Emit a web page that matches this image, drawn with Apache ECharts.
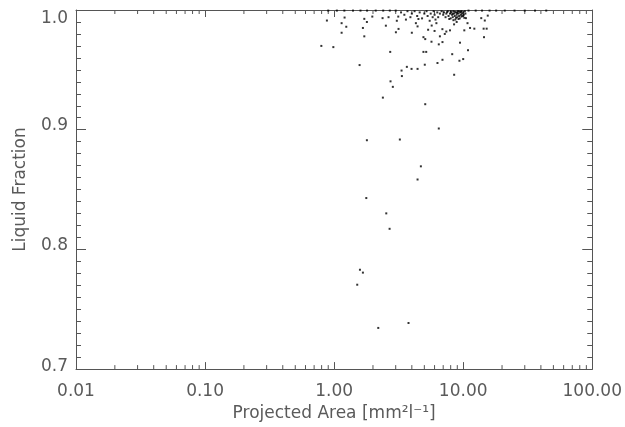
<!DOCTYPE html>
<html>
<head>
<meta charset="utf-8">
<script src="https://cdn.jsdelivr.net/npm/echarts@6/dist/echarts.min.js"></script>
<style>
  html, body { margin: 0; padding: 0; background: #fff; }
  #chart { width: 625px; height: 427px; }
</style>
</head>
<body>
<div id="chart"></div>
<script>
// Projected area [mm^2 l^-1] vs liquid fraction, one point per sample.
const areaTickLabels = ['0.01', '0.10', '1.00', '10.00', '100.00'];
const fractionTickLabels = ['0.7', '0.8', '0.9', '1.0'];

// Minor tick positions on the logarithmic area axis
const areaMinorTicks = [
  0.02, 0.03, 0.04, 0.05, 0.06, 0.07, 0.08, 0.09,
  0.2, 0.3, 0.4, 0.5, 0.6, 0.7, 0.8, 0.9,
  2, 3, 4, 5, 6, 7, 8, 9,
  20, 30, 40, 50, 60, 70, 80, 90
];

// Scattered samples below the saturated band
const scatteredPoints = [
  [0.879, 0.9912], [0.796, 0.970], [0.986, 0.969], [1.143, 0.989], [1.205, 0.9937],
  [1.242, 0.986], [1.143, 0.981], [1.575, 0.954], [1.671, 0.985], [1.713, 0.9926],
  [1.794, 0.990], [1.713, 0.978], [1.976, 0.9945], [2.373, 0.9932], [2.517, 0.9869],
  [2.64, 0.994], [2.72, 0.965], [2.735, 0.9404], [2.85, 0.9358], [2.386, 0.9268],
  [3.01, 0.9814], [3.155, 0.9842], [3.06, 0.991], [3.14, 0.9945], [3.33, 0.9494],
  [3.35, 0.9448], [3.66, 0.9525], [3.98, 0.9508], [4.43, 0.9508], [4.0, 0.981],
  [4.30, 0.989], [4.43, 0.9863], [4.92, 0.9773], [5.08, 0.9757], [4.92, 0.965],
  [5.17, 0.965], [5.04, 0.9543], [5.08, 0.9213], [5.68, 0.9735], [6.32, 0.9557],
  [6.47, 0.9713], [6.91, 0.9732], [6.91, 0.9584], [8.22, 0.9631], [8.51, 0.9459],
  [9.35, 0.9576], [10.0, 0.959], [9.45, 0.9727], [10.9, 0.9664], [11.3, 0.985],
  [12.2, 0.9844], [10.2, 0.983], [10.8, 0.989], [10.5, 0.9932], [13.8, 0.9932],
  [14.7, 0.9912], [15.5, 0.9953], [14.4, 0.9844], [15.2, 0.9844], [14.5, 0.9773],
  [6.47, 0.901], [1.794, 0.8912], [3.23, 0.8918], [4.70, 0.8694], [4.43, 0.8584],
  [1.775, 0.8429], [2.535, 0.8301], [2.69, 0.8172], [1.585, 0.783], [1.671, 0.7806],
  [1.51, 0.7705], [3.77, 0.7385], [2.198, 0.7344]
];

// Dense band of samples close to fully liquid
const densePoints = [
  [6.6, 0.997], [6.8, 0.999], [7.0, 0.996], [7.1, 0.998], [7.3, 0.994], [7.4, 0.997],
  [7.6, 0.999], [7.7, 0.995], [7.9, 0.997], [8.0, 0.993], [8.1, 0.998], [8.2, 0.996],
  [8.3, 0.994], [8.4, 0.999], [8.5, 0.997], [8.6, 0.995], [8.7, 0.992], [8.8, 0.998],
  [8.9, 0.996], [9.0, 0.994], [9.1, 0.999], [9.2, 0.997], [9.3, 0.995], [9.4, 0.993],
  [9.5, 0.998], [9.6, 0.996], [9.7, 0.999], [9.8, 0.997], [9.9, 0.995], [10.0, 0.998],
  [10.1, 0.996], [10.3, 0.999], [10.4, 0.997], [8.0, 0.999], [8.6, 0.9985], [9.3, 0.9988],
  [7.5, 0.9982], [8.3, 0.9968], [9.0, 0.9975], [9.6, 0.9985], [8.8, 0.9935], [9.2, 0.9925],
  [8.4, 0.9915], [7.8, 0.9925], [10.2, 0.9935], [9.7, 0.9945],
  [3.3, 0.998], [3.5, 0.996], [3.7, 0.999], [3.9, 0.994], [4.0, 0.997], [4.2, 0.999],
  [4.4, 0.995], [4.6, 0.998], [4.8, 0.993], [5.0, 0.997], [5.2, 0.999], [5.3, 0.995],
  [5.5, 0.991], [5.6, 0.997], [5.8, 0.994], [5.9, 0.999], [6.0, 0.996], [6.1, 0.992],
  [6.3, 0.998], [6.4, 0.994], [6.2, 0.989], [5.7, 0.987], [5.35, 0.9835], [6.0, 0.9825],
  [6.9, 0.984], [7.4, 0.982], [7.9, 0.983], [8.5, 0.988], [8.9, 0.990], [6.6, 0.978],
  [7.2, 0.980], [4.5, 0.9925], [3.6, 0.992]
];

// Samples sitting on the 1.0 line
const saturatedPoints = [
  [0.9, 0.9995], [1.05, 0.9995], [1.2, 0.9995], [1.4, 0.9995], [1.6, 0.9995],
  [1.8, 0.9995], [2.1, 0.9995], [2.4, 0.9995], [2.7, 0.9995], [3.0, 0.9995],
  [11, 0.9995], [12.5, 0.9995], [14, 0.9995], [16, 0.9995], [18, 0.9995],
  [21, 0.9995], [25, 0.9995], [30, 0.9995], [36, 0.9995], [44, 0.9995]
];

const axisColor = '#555';
const textColor = '#5a5a5a';
const fontFamily = 'DejaVu Sans';

const chart = echarts.init(document.getElementById('chart'), null, { renderer: 'canvas' });

function areaLabel(v) {
  const exp = Math.round(Math.log10(v));
  return areaTickLabels[exp + 2] || '';
}

function fractionLabel(v) {
  const idx = Math.round((v - 0.7) * 10);
  const text = fractionTickLabels[idx] || '';
  if (idx === 0) return '{low|' + text + '}';
  if (idx === 3) return '{high|' + text + '}';
  return '{mid|' + text + '}';
}

const labelRich = {
  low: { fontFamily, fontSize: 17, color: textColor, padding: [0, 0, 6, 0] },
  mid: { fontFamily, fontSize: 17, color: textColor, padding: [0, 0, 8, 0] },
  high: { fontFamily, fontSize: 17, color: textColor, padding: [18, 0, 0, 0] }
};

const xCommon = {
  type: 'log',
  logBase: 10,
  min: 0.01,
  max: 100,
  axisLine: { show: true, onZero: false, lineStyle: { color: axisColor, width: 1 } },
  splitLine: { show: false }
};

const yCommon = {
  type: 'value',
  min: 0.7,
  max: 1.0,
  interval: 0.1,
  axisLine: { show: true, onZero: false, lineStyle: { color: axisColor, width: 1 } },
  axisTick: { show: true, inside: true, length: 10, lineStyle: { color: axisColor } },
  minorTick: { show: true, splitNumber: 10, length: 5, lineStyle: { color: axisColor } },
  splitLine: { show: false },
  minorSplitLine: { show: false }
};

const pointStyle = { color: '#000' };

chart.setOption({
  animation: false,
  backgroundColor: '#fff',
  grid: { left: 76, right: 32, top: 10, bottom: 51 },
  xAxis: [
    Object.assign({}, xCommon, {
      position: 'bottom',
      name: 'Projected Area [mm²l⁻¹]',
      nameLocation: 'middle',
      nameGap: 33,
      nameTextStyle: { fontFamily, fontSize: 17, color: textColor },
      axisTick: { show: true, inside: true, length: 7, lineStyle: { color: axisColor } },
      axisLabel: {
        show: true, margin: 14, fontFamily, fontSize: 17, color: textColor,
        formatter: areaLabel
      }
    }),
    Object.assign({}, xCommon, {
      position: 'top',
      axisTick: { show: true, inside: true, length: 7, lineStyle: { color: axisColor } },
      axisLabel: { show: false }
    })
  ],
  yAxis: [
    Object.assign({}, yCommon, {
      position: 'left',
      name: 'Liquid Fraction',
      nameLocation: 'middle',
      nameGap: 47,
      nameTextStyle: { fontFamily, fontSize: 17, color: textColor },
      axisLabel: { show: true, margin: 8, formatter: fractionLabel, rich: labelRich }
    }),
    Object.assign({}, yCommon, {
      position: 'right',
      axisLabel: { show: false }
    })
  ],
  series: [
    {
      // minor ticks of the log axis, bottom and top edges
      type: 'custom',
      xAxisIndex: 0,
      yAxisIndex: 0,
      silent: true,
      clip: false,
      data: areaMinorTicks.map(v => [v, 0.7]),
      renderItem: function (params, api) {
        const v = api.value(0);
        const bottom = api.coord([v, 0.7]);
        const top = api.coord([v, 1.0]);
        const style = { stroke: axisColor, lineWidth: 1 };
        return {
          type: 'group',
          children: [
            { type: 'line', shape: { x1: bottom[0], y1: bottom[1], x2: bottom[0], y2: bottom[1] - 4 }, style },
            { type: 'line', shape: { x1: top[0], y1: top[1], x2: top[0], y2: top[1] + 4 }, style }
          ]
        };
      }
    },
    {
      type: 'scatter', xAxisIndex: 0, yAxisIndex: 0,
      symbol: 'rect', symbolSize: 2, itemStyle: pointStyle, silent: true,
      data: scatteredPoints
    },
    {
      type: 'scatter', xAxisIndex: 0, yAxisIndex: 0,
      symbol: 'rect', symbolSize: 2, itemStyle: pointStyle, silent: true,
      data: densePoints
    },
    {
      type: 'scatter', xAxisIndex: 0, yAxisIndex: 0,
      symbol: 'rect', symbolSize: 2, itemStyle: pointStyle, silent: true,
      data: saturatedPoints
    }
  ]
});
</script>
</body>
</html>
